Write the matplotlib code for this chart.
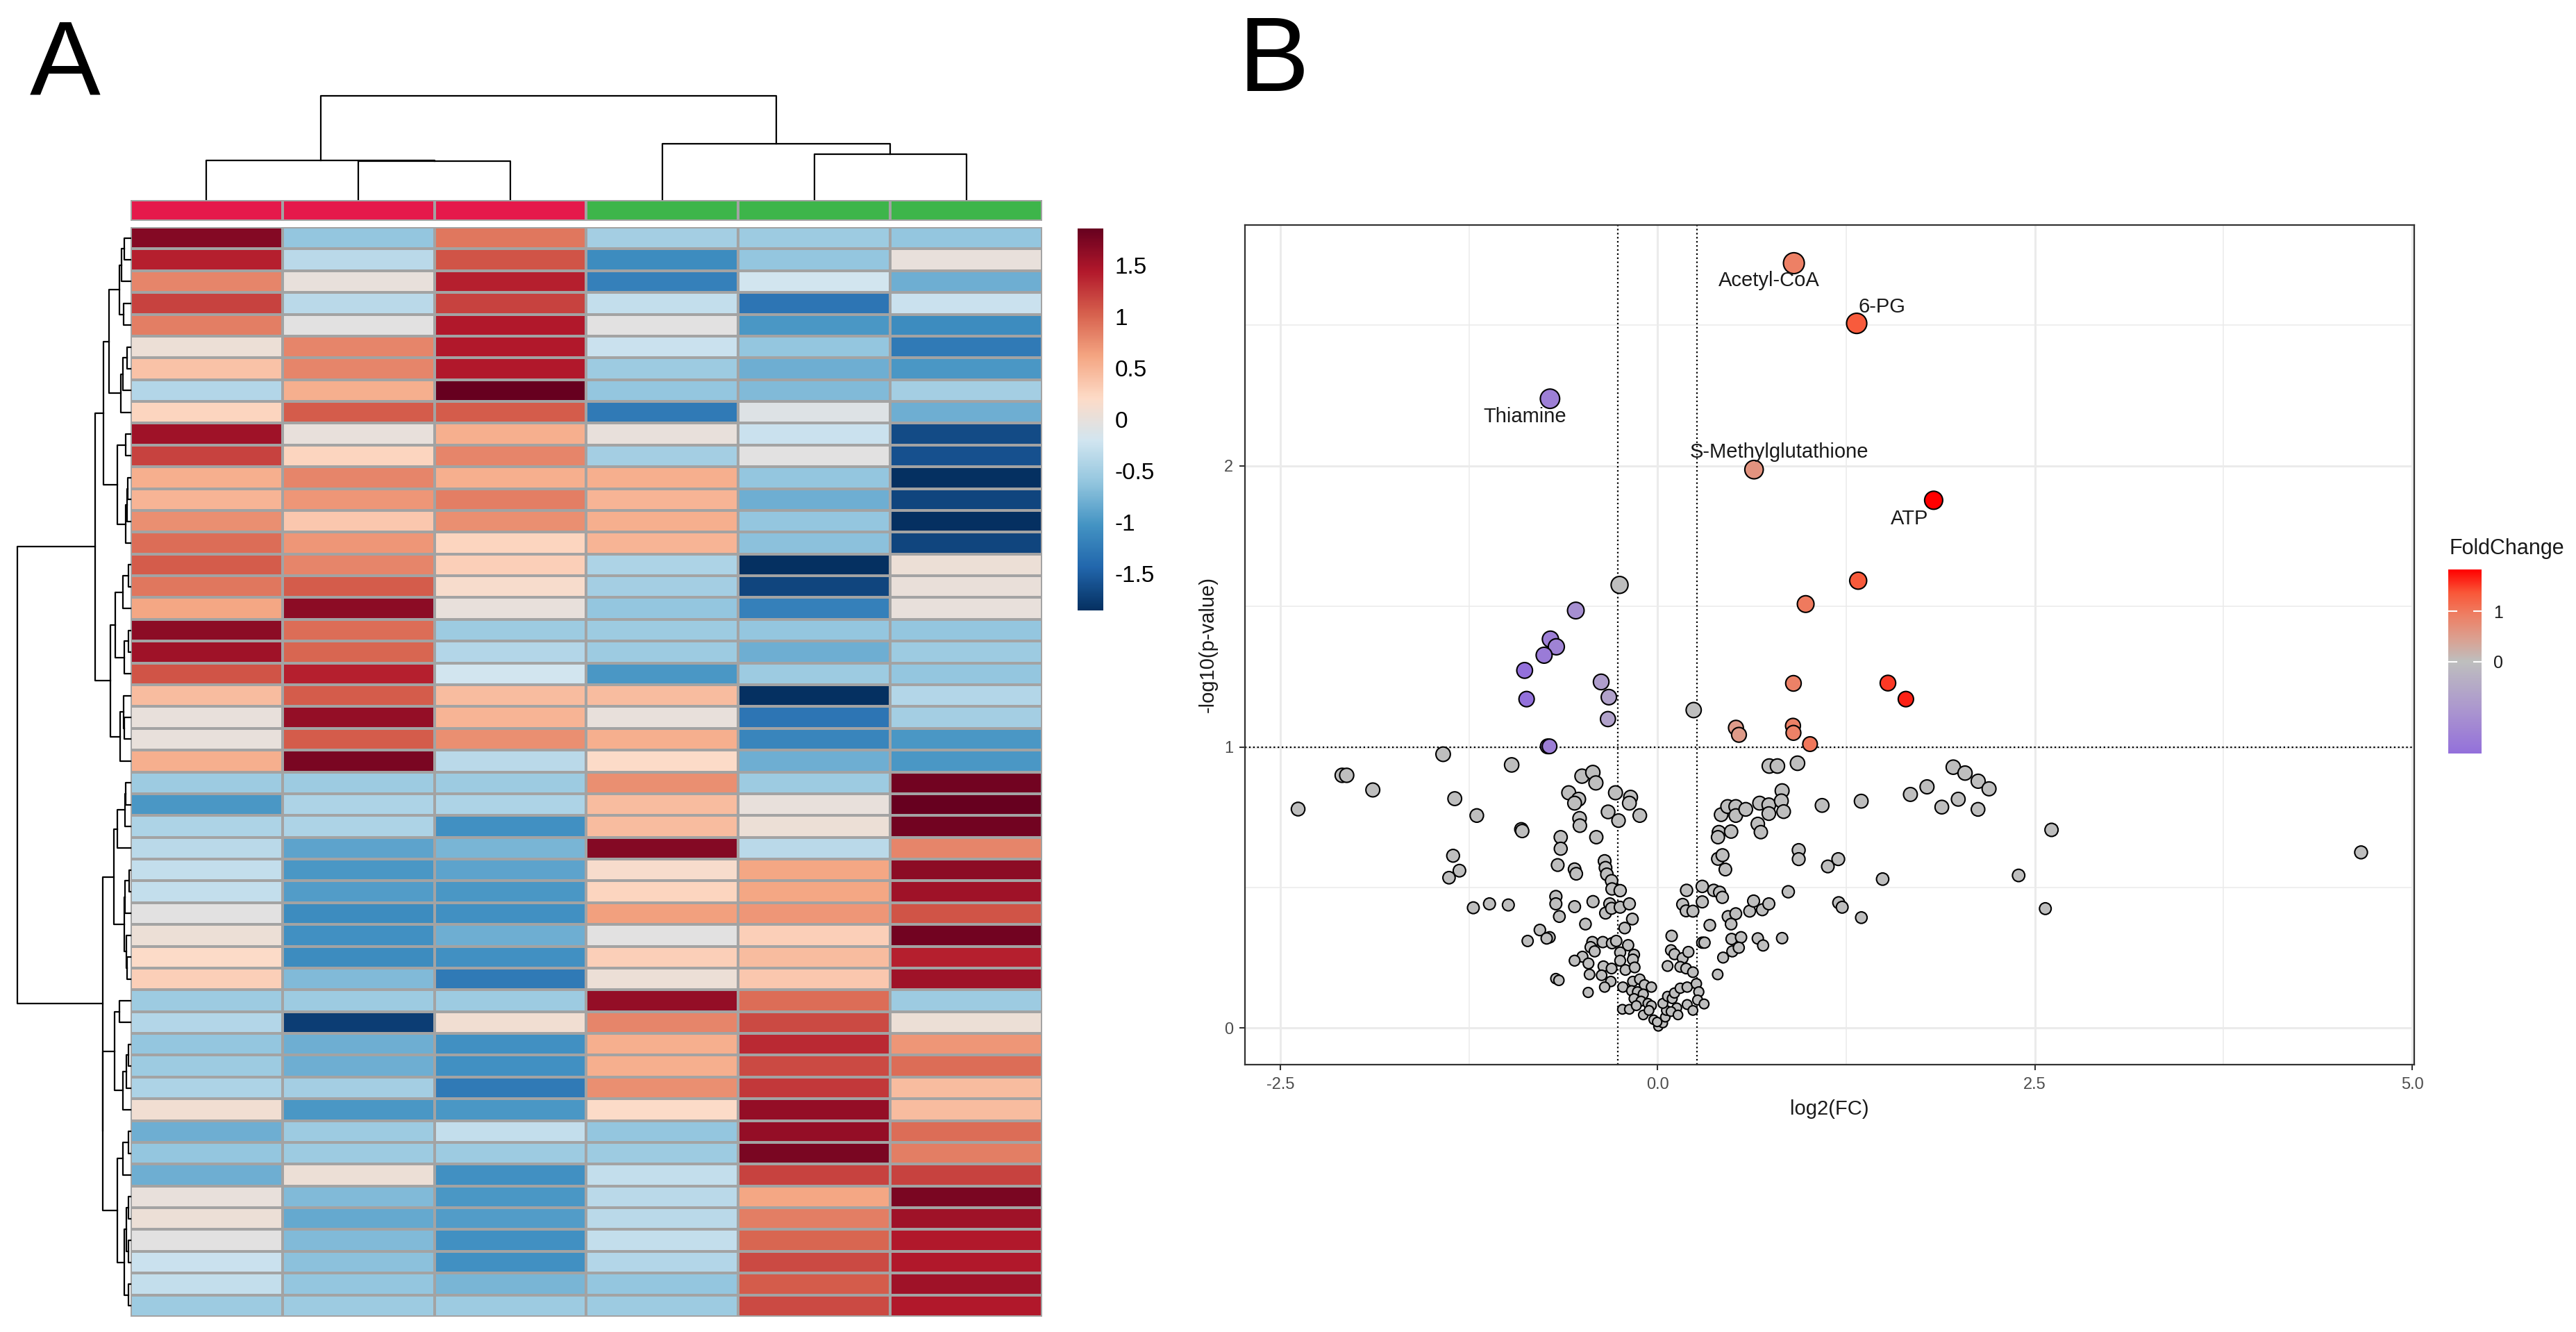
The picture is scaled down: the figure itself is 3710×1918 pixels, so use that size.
import numpy as np
import matplotlib
matplotlib.use("Agg")
import matplotlib.pyplot as plt
from matplotlib.colors import LinearSegmentedColormap, ListedColormap, TwoSlopeNorm, Normalize
from matplotlib.cm import ScalarMappable

plt.rcParams['font.family'] = ['Liberation Sans', 'DejaVu Sans']

# ---- panel A: row-scaled metabolite levels (50 metabolites x 6 samples)
heat_rows = [
    [1.70, -0.60, 0.90, -0.50, -0.55, -0.60],
    [1.40, -0.35, 1.10, -1.10, -0.60, 0.00],
    [0.80, 0.00, 1.40, -1.20, -0.20, -0.80],
    [1.20, -0.35, 1.20, -0.30, -1.30, -0.25],
    [0.85, -0.05, 1.45, -0.05, -1.00, -1.10],
    [0.05, 0.80, 1.45, -0.25, -0.60, -1.25],
    [0.40, 0.80, 1.45, -0.55, -0.80, -1.00],
    [-0.40, 0.55, 1.85, -0.60, -0.70, -0.50],
    [0.25, 1.05, 1.05, -1.25, -0.10, -0.80],
    [1.55, 0.00, 0.55, 0.00, -0.25, -1.65],
    [1.20, 0.25, 0.80, -0.50, -0.05, -1.60],
    [0.55, 0.80, 0.55, 0.55, -0.60, -1.85],
    [0.50, 0.70, 0.85, 0.50, -0.80, -1.70],
    [0.75, 0.35, 0.75, 0.55, -0.60, -1.85],
    [0.95, 0.70, 0.25, 0.50, -0.65, -1.70],
    [1.05, 0.80, 0.30, -0.45, -1.85, 0.05],
    [0.90, 1.05, 0.15, -0.50, -1.70, 0.02],
    [0.60, 1.65, 0.00, -0.60, -1.20, 0.00],
    [1.65, 0.95, -0.55, -0.55, -0.60, -0.60],
    [1.55, 1.00, -0.40, -0.55, -0.80, -0.55],
    [1.10, 1.40, -0.20, -1.00, -0.55, -0.60],
    [0.45, 1.05, 0.45, 0.45, -1.85, -0.40],
    [0.00, 1.60, 0.50, 0.00, -1.30, -0.50],
    [0.00, 1.05, 0.75, 0.55, -1.15, -1.00],
    [0.55, 1.75, -0.35, 0.20, -0.80, -1.00],
    [-0.55, -0.55, -0.55, 0.75, -0.55, 1.80],
    [-1.00, -0.45, -0.45, 0.45, 0.00, 1.90],
    [-0.45, -0.45, -1.05, 0.45, 0.05, 1.80],
    [-0.35, -0.90, -0.75, 1.70, -0.35, 0.80],
    [-0.30, -1.00, -0.90, 0.15, 0.60, 1.65],
    [-0.30, -0.95, -1.00, 0.25, 0.60, 1.55],
    [-0.05, -1.10, -1.05, 0.65, 0.70, 1.10],
    [0.05, -1.05, -0.80, -0.05, 0.30, 1.80],
    [0.20, -1.10, -1.05, 0.30, 0.45, 1.40],
    [0.30, -0.70, -1.25, 0.05, 0.35, 1.55],
    [-0.55, -0.55, -0.55, 1.60, 0.95, -0.55],
    [-0.40, -1.75, 0.10, 0.80, 1.15, 0.05],
    [-0.60, -0.80, -1.05, 0.55, 1.35, 0.70],
    [-0.55, -0.80, -1.05, 0.55, 1.15, 0.95],
    [-0.45, -0.50, -1.25, 0.75, 1.25, 0.45],
    [0.10, -1.00, -1.00, 0.20, 1.60, 0.45],
    [-0.80, -0.55, -0.30, -0.60, 1.60, 0.95],
    [-0.60, -0.55, -0.55, -0.55, 1.75, 0.85],
    [-0.80, 0.05, -1.05, -0.30, 1.20, 1.20],
    [0.00, -0.70, -1.00, -0.35, 0.60, 1.75],
    [0.05, -0.85, -0.95, -0.35, 0.85, 1.55],
    [-0.05, -0.70, -1.05, -0.30, 1.00, 1.45],
    [-0.25, -0.65, -1.05, -0.40, 1.15, 1.45],
    [-0.30, -0.60, -0.75, -0.60, 1.05, 1.55],
    [-0.55, -0.55, -0.55, -0.55, 1.15, 1.45],
]
sample_group = [0, 0, 0, 1, 1, 1]
group_colors = ['#E5194B', '#3DB54A']
heat_ticks = [1.5, 1, 0.5, 0, -0.5, -1, -1.5]
heat_tick_labels = ['1.5', '1', '0.5', '0', '-0.5', '-1', '-1.5']

# ---- panel B: volcano plot, log2(FC) and -log10(p)
fc_sig = [0.903, 1.319, -0.713, 0.639, 1.829, 1.329, 0.981, 0.900, 1.526, 1.645,
          0.519, 0.539, 0.897, 0.900, 1.010, -0.542, -0.710, -0.671, -0.752, -0.881,
          -0.868, -0.374, -0.323, -0.329, -0.728, -0.716]
lp_sig = [2.720, 2.506, 2.238, 1.986, 1.877, 1.591, 1.508, 1.226, 1.227, 1.170,
          1.068, 1.043, 1.075, 1.050, 1.010, 1.485, 1.383, 1.356, 1.326, 1.272,
          1.170, 1.231, 1.177, 1.099, 1.002, 1.002]
label_names = ['Acetyl-CoA', '6-PG', 'Thiamine', 'S-Methylglutathione', 'ATP']

fc_rest = [
    -0.252, 0.239,
    -1.421, -0.967, -2.090, -2.060, -1.887, -2.382, -1.344, -1.198, -0.903, -0.897,
    -0.501, -0.429, -0.409, -0.589, -0.523, -0.550, -0.517, -0.515, -0.642, -0.642,
    -0.406, -0.662, -0.550, -0.539, -1.355, -1.313, -1.382, -1.221, -1.114, -0.989,
    -0.674, -0.674, -0.651, -0.550, -0.428, -0.478, -0.780, -0.716, -0.735, -0.861,
    -0.432, -0.444, -0.417, -0.498, -0.550, -0.458, -0.451, -0.674, -0.654, -0.460,
    -0.279, -0.328, -0.259, -0.179, -0.187, -0.118, -0.351, -0.345, -0.336, -0.305,
    -0.302, -0.248, -0.317, -0.345, -0.305, -0.248, -0.187, -0.167, -0.218, -0.363,
    -0.302, -0.274, -0.195, -0.248, -0.156, -0.359, -0.305, -0.248, -0.213, -0.164,
    -0.152, -0.371, -0.310, -0.351, -0.230, -0.233, -0.187,
    -0.164, -0.118, -0.087, -0.041, -0.172, -0.133, -0.095, -0.156, -0.110, -0.064,
    -0.041, -0.141, -0.095, -0.057, -0.026, 0.005, 0.035, -0.003, 0.051, 0.058,
    0.035, 0.066, 0.097, 0.112, 0.150, 0.196, 0.127, 0.089, 0.135, 0.196,
    0.234, 0.257, 0.273, 0.265, 0.308,
    0.093, 0.089, 0.112, 0.166, 0.204, 0.066, 0.150, 0.189, 0.234,
    0.192, 0.166, 0.189, 0.234, 0.296, 0.296, 0.372, 0.411, 0.429,
    0.296, 0.311, 0.346, 0.398, 0.434, 0.467, 0.518, 0.487, 0.490, 0.553,
    0.495, 0.538, 0.610, 0.636, 0.694, 0.737, 0.664, 0.699, 0.825, 0.866,
    1.200, 1.223,
    0.406, 0.400, 0.487, 0.421, 0.464, 0.518, 0.518, 0.584, 0.676, 0.664,
    0.684, 0.737, 0.737, 0.825, 0.820, 0.835, 1.090,
    0.400, 0.430, 0.449, 0.935, 0.935, 1.128, 1.197, 0.740, 0.794, 0.927,
    1.349, 1.675, 1.785, 1.883, 1.992, 1.959, 2.037, 2.124, 2.196, 2.123,
    2.610, 1.491, 2.392, 1.350, 2.569, 4.661,
]
lp_rest = [
    1.576, 1.131,
    0.974, 0.936, 0.899, 0.899, 0.847, 0.779, 0.816, 0.756, 0.707, 0.701,
    0.896, 0.909, 0.872, 0.837, 0.814, 0.800, 0.746, 0.720, 0.679, 0.638,
    0.679, 0.580, 0.565, 0.549, 0.613, 0.560, 0.535, 0.428, 0.442, 0.438,
    0.468, 0.442, 0.397, 0.432, 0.450, 0.370, 0.349, 0.323, 0.319, 0.310,
    0.306, 0.288, 0.273, 0.254, 0.240, 0.230, 0.191, 0.176, 0.170, 0.127,
    0.837, 0.769, 0.738, 0.821, 0.800, 0.756, 0.594, 0.570, 0.547, 0.524,
    0.495, 0.489, 0.442, 0.409, 0.426, 0.430, 0.442, 0.388, 0.356, 0.306,
    0.302, 0.310, 0.295, 0.269, 0.261, 0.220, 0.212, 0.240, 0.207, 0.244,
    0.216, 0.188, 0.166, 0.146, 0.146, 0.067, 0.067,
    0.166, 0.174, 0.154, 0.146, 0.133, 0.129, 0.121, 0.105, 0.096, 0.088,
    0.080, 0.080, 0.047, 0.063, 0.030, 0.006, 0.018, 0.022, 0.039, 0.063,
    0.088, 0.113, 0.105, 0.125, 0.142, 0.146, 0.072, 0.059, 0.047, 0.084,
    0.063, 0.158, 0.129, 0.100, 0.086,
    0.328, 0.277, 0.263, 0.249, 0.271, 0.221, 0.218, 0.212, 0.199,
    0.490, 0.440, 0.417, 0.416, 0.504, 0.449, 0.490, 0.483, 0.465,
    0.304, 0.304, 0.366, 0.191, 0.251, 0.397, 0.407, 0.370, 0.317, 0.323,
    0.273, 0.286, 0.416, 0.452, 0.421, 0.442, 0.319, 0.294, 0.320, 0.485,
    0.446, 0.430,
    0.697, 0.679, 0.699, 0.759, 0.788, 0.788, 0.756, 0.778, 0.800, 0.726,
    0.697, 0.794, 0.763, 0.844, 0.808, 0.770, 0.792,
    0.602, 0.615, 0.564, 0.633, 0.601, 0.575, 0.601, 0.932, 0.932, 0.942,
    0.807, 0.831, 0.858, 0.786, 0.814, 0.928, 0.907, 0.878, 0.851, 0.778,
    0.705, 0.530, 0.543, 0.393, 0.425, 0.625,
]

W, H = 3710, 1918
fig = plt.figure(figsize=(W / 100, H / 100), dpi=100)


def box(x0, y0, x1, y1):
    # pixel box (top-left origin) -> figure rect
    return [x0 / W, 1 - y1 / H, (x1 - x0) / W, (y1 - y0) / H]


def merge_tree(mat):
    # ward linkage restricted to neighbouring clusters, keeps the leaf order
    nodes = [dict(c=np.asarray(r, float), n=1, pos=i + 0.5, h=0.0) for i, r in enumerate(mat)]
    segs = []
    while len(nodes) > 1:
        d = [np.sqrt(2 * a['n'] * b['n'] / (a['n'] + b['n'])) * np.linalg.norm(a['c'] - b['c'])
             for a, b in zip(nodes[:-1], nodes[1:])]
        k = int(np.argmin(d))
        a, b = nodes[k], nodes[k + 1]
        h = max(d[k], a['h'], b['h'])
        segs.append((a['pos'], b['pos'], a['h'], b['h'], h))
        nodes[k:k + 2] = [dict(c=(a['c'] * a['n'] + b['c'] * b['n']) / (a['n'] + b['n']),
                               n=a['n'] + b['n'], pos=(a['pos'] + b['pos']) / 2, h=h)]
    return segs


heat = np.array(heat_rows)
nrow, ncol = heat.shape
rdbu = LinearSegmentedColormap.from_list(
    'rdbu10', ['#053061', '#2166AC', '#4393C3', '#92C5DE', '#D1E5F0',
               '#FDDBC7', '#F4A582', '#D6604D', '#B2182B', '#67001F'], N=256)
lim = 1.86

ax_h = fig.add_axes(box(188, 327, 1501, 1896))
ax_h.pcolormesh(heat, cmap=rdbu, vmin=-lim, vmax=lim, edgecolors='#a3a3a3', linewidth=1.6)
ax_h.set_xlim(0, ncol)
ax_h.set_ylim(nrow, 0)
ax_h.axis('off')

ax_a = fig.add_axes(box(188, 288, 1501, 318))
ax_a.pcolormesh(np.array([sample_group]), cmap=ListedColormap(group_colors), vmin=0, vmax=1,
                edgecolors='#a3a3a3', linewidth=1.6)
ax_a.set_xlim(0, ncol)
ax_a.set_ylim(0, 1)
ax_a.axis('off')

# column dendrogram
col_segs = merge_tree(heat.T)
ax_cd = fig.add_axes(box(188, 138, 1501, 287))
ctop = max(s[4] for s in col_segs)
for p0, p1, h0, h1, h in col_segs:
    ax_cd.plot([p0, p0, p1, p1], [h0, h, h, h1], color='black', lw=1.6, clip_on=False)
ax_cd.set_xlim(0, ncol)
ax_cd.set_ylim(0, ctop)
ax_cd.axis('off')

# row dendrogram
row_segs = merge_tree(heat)
ax_rd = fig.add_axes(box(25, 327, 188, 1896))
rtop = max(s[4] for s in row_segs)
for p0, p1, h0, h1, h in row_segs:
    ax_rd.plot([h0, h, h, h1], [p0, p0, p1, p1], color='black', lw=1.6, clip_on=False)
ax_rd.set_xlim(rtop, 0)
ax_rd.set_ylim(nrow, 0)
ax_rd.axis('off')

# heatmap legend
cax = fig.add_axes(box(1552, 329, 1589, 879))
cb = fig.colorbar(ScalarMappable(norm=Normalize(-lim, lim), cmap=rdbu), cax=cax)
cb.outline.set_visible(False)
cb.set_ticks(heat_ticks)
cb.set_ticklabels(heat_tick_labels)
cax.tick_params(length=0, pad=12, labelsize=24)

fig.text(43 / W, 1 - 136 / H, 'A', fontsize=110, va='baseline', ha='left')
fig.text(1784 / W, 1 - 131 / H, 'B', fontsize=110, va='baseline', ha='left')

# ---- volcano
fc = np.array(fc_sig + fc_rest)
lp = np.array(lp_sig + lp_rest)
fc_cut = np.log2(1.2)
sig = (lp >= 1) & (np.abs(fc) > fc_cut)

ax_v = fig.add_axes(box(1793, 324, 3477, 1533))
xspan = fc.max() - fc.min()
yspan = lp.max() - lp.min()
ax_v.set_xlim(fc.min() - 0.05 * xspan, fc.max() + 0.05 * xspan)
ax_v.set_ylim(lp.min() - 0.05 * yspan, lp.max() + 0.05 * yspan)

ax_v.set_xticks([-2.5, 0, 2.5, 5])
ax_v.set_xticklabels(['-2.5', '0.0', '2.5', '5.0'])
ax_v.set_xticks([-1.25, 1.25, 3.75], minor=True)
ax_v.set_yticks([0, 1, 2])
ax_v.set_yticks([0.5, 1.5, 2.5], minor=True)
ax_v.grid(which='major', color='#EBEBEB', lw=2.2, zorder=0)
ax_v.grid(which='minor', color='#EBEBEB', lw=1.1, zorder=0)
ax_v.set_axisbelow(True)
ax_v.tick_params(which='minor', length=0)
ax_v.tick_params(which='major', length=6, width=1.5, color='#333333', labelcolor='#4D4D4D',
                 labelsize=17)
ax_v.tick_params(axis='x', pad=7)
ax_v.tick_params(axis='y', pad=6)
for sp in ax_v.spines.values():
    sp.set_color('#333333')
    sp.set_linewidth(1.6)

for xv in (-fc_cut, fc_cut):
    ax_v.axvline(xv, color='black', ls=':', lw=1.6, zorder=1)
ax_v.axhline(1, color='black', ls=':', lw=1.6, zorder=1)

size = (0.72 * np.sqrt(196 + 271 * (lp - 0.1))) ** 2
# purple -> grey -> red, stops spaced as a Lab blend
fc_cmap = LinearSegmentedColormap.from_list(
    'fc', ['#9370DB', '#A084D4', '#AC98CE', '#B5ABC6', '#BEBEBE',
           '#DBA090', '#ED8065', '#F95738', '#FF0000'])
fc_norm = TwoSlopeNorm(vcenter=0, vmin=fc[sig].min(), vmax=fc[sig].max())

ax_v.scatter(fc[~sig], lp[~sig], s=size[~sig], c='#BEBEBE', edgecolors='black',
             linewidths=1.5, zorder=3)
ax_v.scatter(fc[sig], lp[sig], s=size[sig], c=fc[sig], cmap=fc_cmap, norm=fc_norm,
             edgecolors='black', linewidths=1.5, zorder=4)

# repelled label offsets (data units)
label_offsets = [(-0.163, -0.063), (0.166, 0.059), (-0.164, -0.064), (0.167, 0.063), (-0.161, -0.065)]
for i, name in enumerate(label_names):
    dx, dy = label_offsets[i]
    ax_v.text(fc[i] + dx, lp[i] + dy, name, fontsize=21, ha='center', va='center',
              color='#1a1a1a', zorder=5)

ax_v.set_xlabel('log2(FC)', fontsize=21, color='#1a1a1a')
ax_v.xaxis.set_label_coords(0.5, (1533 - 1597) / 1209)
ax_v.xaxis.label.set_va('center')
ax_v.set_ylabel('-log10(p-value)', fontsize=21, color='#1a1a1a')
ax_v.yaxis.set_label_coords((1740 - 1793) / 1684, 0.5)
ax_v.yaxis.label.set_va('center')

# fold-change legend
fig.text(3527 / W, 1 - 790 / H, 'FoldChange', fontsize=22, ha='left', va='center',
         color='#1a1a1a')
lax = fig.add_axes(box(3526, 820, 3574, 1085))
lcb = fig.colorbar(ScalarMappable(norm=fc_norm, cmap=fc_cmap), cax=lax)
lcb.outline.set_visible(False)
lcb.set_ticks([0, 1])
lcb.set_ticklabels(['0', '1'])
lax.tick_params(axis='y', direction='in', length=9, width=1.5, color='white',
                labelcolor='#1a1a1a', left=True, right=True, labelsize=18, pad=12)

fig.savefig('out.png', dpi=100)
